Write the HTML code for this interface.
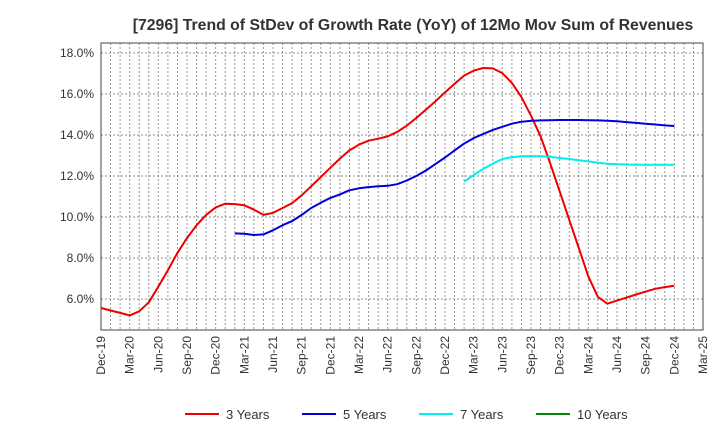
<!DOCTYPE html>
<html><head><meta charset="utf-8"><style>
body{margin:0;background:#fff;font-family:"Liberation Sans",sans-serif}
svg text{font-family:"Liberation Sans",sans-serif}
</style></head><body>
<svg id="c" width="720" height="440"></svg>
<script>
const red=[5.56,5.44,5.32,5.2,5.4,5.84,6.6,7.4,8.25,8.97,9.6,10.1,10.47,10.65,10.63,10.57,10.36,10.1,10.2,10.44,10.68,11.06,11.5,11.95,12.4,12.85,13.25,13.53,13.72,13.82,13.93,14.15,14.46,14.83,15.24,15.64,16.08,16.5,16.9,17.14,17.27,17.25,17.02,16.54,15.85,14.94,13.93,12.63,11.25,9.87,8.49,7.1,6.1,5.77,5.92,6.07,6.22,6.36,6.5,6.58,6.65];
const blue=[null,null,null,null,null,null,null,null,null,null,null,null,null,null,9.2,9.18,9.12,9.15,9.35,9.6,9.8,10.1,10.44,10.7,10.93,11.1,11.3,11.4,11.46,11.5,11.52,11.6,11.78,12.0,12.27,12.58,12.9,13.25,13.58,13.85,14.05,14.25,14.4,14.55,14.65,14.69,14.71,14.72,14.73,14.73,14.73,14.72,14.71,14.7,14.67,14.63,14.59,14.55,14.51,14.47,14.44];
const cyan=[null,null,null,null,null,null,null,null,null,null,null,null,null,null,null,null,null,null,null,null,null,null,null,null,null,null,null,null,null,null,null,null,null,null,null,null,null,null,11.72,12.05,12.35,12.6,12.83,12.92,12.96,12.97,12.96,12.93,12.88,12.83,12.77,12.71,12.65,12.6,12.57,12.56,12.55,12.55,12.55,12.55,12.55];
const green=[];
const yTicks=[6,8,10,12,14,16,18];
const xLabels=["Dec-19","Mar-20","Jun-20","Sep-20","Dec-20","Mar-21","Jun-21","Sep-21","Dec-21","Mar-22","Jun-22","Sep-22","Dec-22","Mar-23","Jun-23","Sep-23","Dec-23","Mar-24","Jun-24","Sep-24","Dec-24","Mar-25"];
const L=101,R=703,T=43,B=330,NM=63;
const x=i=>L+(R-L)*i/NM;
const y=v=>299-(v-6)*20.5;
const svg=document.getElementById('c');const NS='http://www.w3.org/2000/svg';
function mk(t,a,p){const e=document.createElementNS(NS,t);for(const k in a)e.setAttribute(k,a[k]);(p||svg).appendChild(e);return e;}
let t=mk('text',{x:413,y:30,'text-anchor':'middle','font-size':15.8,'font-weight':'bold',fill:'#333'});t.textContent='[7296]  Trend of StDev of Growth Rate (YoY) of 12Mo Mov Sum of Revenues';


for(let m=1;m<NM;m++){const l=mk('line',{x1:x(m),x2:x(m),y1:T,y2:B,stroke:'#999','stroke-dasharray':'2,2','stroke-width':1});

}
yTicks.forEach(v=>{const l=mk('line',{x1:L,x2:R,y1:y(v),y2:y(v),stroke:'#888','stroke-dasharray':'2,2'});


const tx=mk('text',{x:94,y:y(v)+4,'text-anchor':'end','font-size':12,fill:'#333'});tx.textContent=v.toFixed(1)+'%';

});
xLabels.forEach((s,i)=>{const xx=x(i*3);const tx=mk('text',{x:xx+4,y:336,'text-anchor':'end','font-size':12,fill:'#333',transform:`rotate(-90 ${xx+4} 336)`});tx.textContent=s;

});
const fr=mk('rect',{x:L,y:T,width:R-L,height:B-T,fill:'none',stroke:'#444','stroke-width':1});


function series(d,c,n){let p='';d.forEach((v,i)=>{if(v!=null)p+=(p?'L':'M')+x(i).toFixed(1)+','+y(v).toFixed(1);});if(!p)return;
const e=mk('path',{d:p,fill:'none',stroke:c,'stroke-width':2,'stroke-linejoin':'round'});

}
series(red,'#ee0000','line-3-years');series(blue,'#0000dd','line-5-years');series(cyan,'#00eeee','line-7-years');series(green,'#008800','line-10-years');
[['3 Years','#ee0000',185],['5 Years','#0000dd',302],['7 Years','#00eeee',419],['10 Years','#008800',536]].forEach(a=>{
const g=mk('g',{});


mk('line',{x1:a[2],x2:a[2]+34,y1:414,y2:414,stroke:a[1],'stroke-width':2},g);
const tx=mk('text',{x:a[2]+41,y:419,'font-size':13,fill:'#333'},g);tx.textContent=a[0];});
</script>
</body></html>
